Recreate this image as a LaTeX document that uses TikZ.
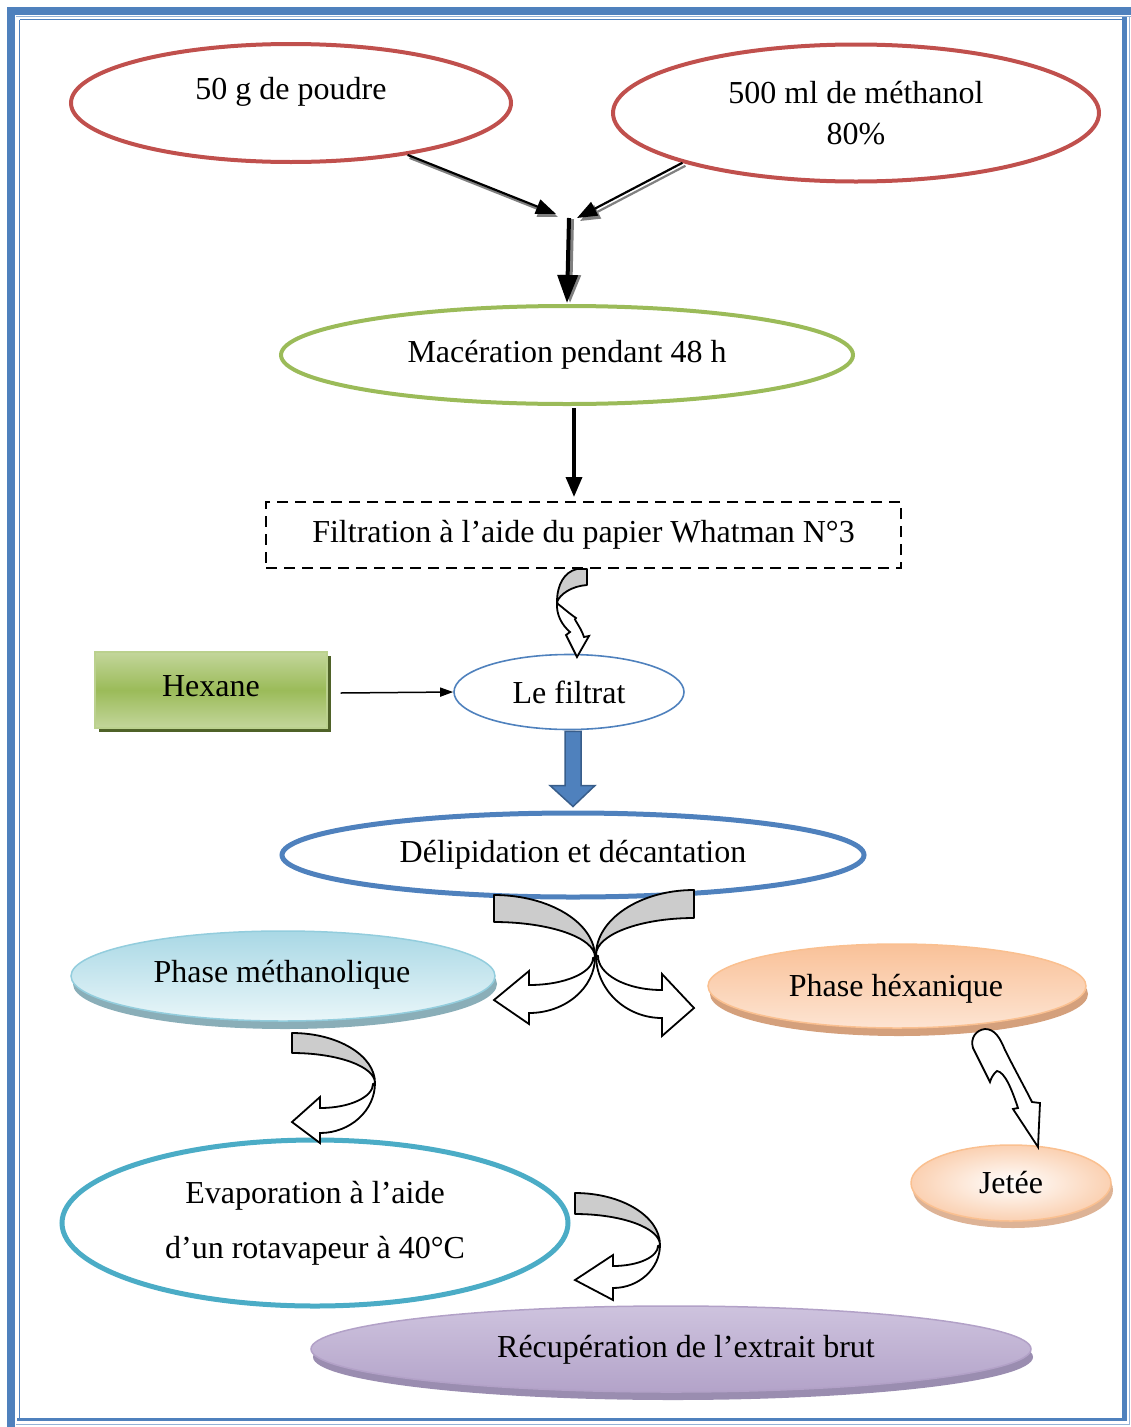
\documentclass[tikz,border=0pt]{standalone}
\usepackage{fontspec}
\setmainfont{Liberation Serif}
\usetikzlibrary{shapes.geometric,shadows,arrows.meta,calc}
\definecolor{redE}{HTML}{C0504D}
\definecolor{greenE}{HTML}{9BBB59}
\definecolor{greenL}{HTML}{C3D69B}
\definecolor{greenD}{HTML}{4F6228}
\definecolor{blueE}{HTML}{4F81BD}
\definecolor{blueD}{HTML}{385D8A}
\definecolor{blueL}{HTML}{95B3D7}
\definecolor{aquaE}{HTML}{4BACC6}
\definecolor{backgray}{HTML}{CCCCCC}
\definecolor{shadowgray}{HTML}{808080}
\definecolor{cyanT}{HTML}{A9D8E5}
\definecolor{cyanB}{HTML}{E9F6F9}
\definecolor{cyanS}{HTML}{8AAEB8}
\definecolor{cyanBd}{HTML}{93CDDD}
\definecolor{orT}{HTML}{F9C198}
\definecolor{orB}{HTML}{FDE4D2}
\definecolor{orS}{HTML}{D4A07C}
\definecolor{orBd}{HTML}{FAC090}
\definecolor{puT}{HTML}{CEC3DE}
\definecolor{puB}{HTML}{B3A3C9}
\definecolor{puS}{HTML}{9A8DB0}
\definecolor{puBd}{HTML}{B2A1C7}
\newcommand\uturnarrow[9]{%
  \filldraw[uback] (0,0) .. controls ({0.55*#1},0) and (#1,{0.45*#2}) .. (#1,#2)
     .. controls (#1,{#2-0.55*(#2-#3)}) and ({0.55*#1},#3) .. (0,#3) -- cycle;
  \filldraw[ufront] (#1,#2) .. controls (#1,{#2+0.55*(#6-#2)}) and ({#4+0.55*(#1-#4)},#6) .. (#4,#6)
     -- (#4,#8) -- (0,#9) -- (#4,#7) -- (#4,#5)
     .. controls ({#4+0.55*(#1-#4)},#5) and ({#1-2},{#2+0.55*(#5-#2)}) .. ({#1-2},{#2+1}) -- cycle;
}
\begin{document}
\begin{tikzpicture}[x=1pt,y=-1pt,
  font=\fontsize{32}{38}\selectfont,
  ell/.style={ellipse, inner sep=0pt, align=center},
  uback/.style={fill=backgray, draw=black, line width=1.8pt, line join=round},
  ufront/.style={fill=white, draw=black, line width=1.8pt, line join=miter},
  thinarr/.style={draw=black, line width=2.2pt, -{Triangle[length=20pt,width=15pt]}},
  thinshadow/.style={draw=shadowgray, line width=2.2pt, -{Triangle[length=20pt,width=15pt]}},
]
\useasboundingbox (0,0) rectangle (1131,1427);
% page border
\fill[blueE] (7,7) rectangle (1131,14.5);
\fill[blueE] (7,7) rectangle (15,1427);
\draw[blueE, line width=1.5pt] (19.5,19.5) -- (1122,19.5);
\draw[blueE, line width=1.5pt] (19.5,19.5) -- (19.5,1418);
\fill[blueE] (1122,17) rectangle (1126.5,1421);
\fill[blueE] (17,1417.5) rectangle (1126.5,1421);
\draw[blueL, line width=1.2pt] (1129.5,16) -- (1129.5,1424.5) -- (16,1424.5);
\draw[blueL, line width=1pt] (16,16.5) -- (1131,16.5);

% top ellipses
\node[ell, draw=redE, line width=4pt, minimum width=440pt, minimum height=118pt] (e1) at (291,103) {};
\node (t1) at (291,92) {50 g de poudre};
\node[ell, draw=redE, line width=4pt, minimum width=486pt, minimum height=137pt,
      font=\fontsize{32}{41}\selectfont] (e2) at (856,113) {500 ml de méthanol\\80\%};
\coordinate (j1) at (556,214);
\coordinate (j2) at (577,218);
\coordinate (j3) at (569,218);

\node[ell, draw=greenE, line width=4pt, minimum width=572pt, minimum height=98pt] (e3) at (567,355) {\raisebox{3pt}{Macération pendant 48 h}};

% arrows into maceration
\draw[thinshadow] ([shift={(2,3)}]e1.-24) -- ([shift={(2,3)}]j1);
\draw[thinarr] (e1.-24) -- (j1);
\draw[thinshadow] ([shift={(3,3)}]e2.196) -- ([shift={(3,3)}]j2);
\draw[thinarr] (e2.196) -- (j2);
\draw[draw=shadowgray, line width=4pt, -{Triangle[length=28pt,width=20pt]}] ([shift={(3,1)}]j3) -- ([shift={(3,-1)}]e3.north);
\draw[draw=black, line width=4pt, -{Triangle[length=28pt,width=20pt]}] (j3) -- ([yshift=1pt]e3.north);

% filtration
\node[draw=black, line width=2pt, dash pattern=on 11pt off 7pt, minimum width=635pt, minimum height=66pt, inner sep=0pt] (filt) at (583.5,535) {Filtration à l’aide du papier Whatman N°3};
\draw[draw=black, line width=3.5pt, -{Triangle[length=20pt,width=16pt]}] ([xshift=7pt,yshift=-2pt]e3.south) -- ([xshift=-9.5pt,yshift=4pt]filt.north);

% filtrat
\node[ell, draw=blueE, line width=1.6pt, minimum width=230pt, minimum height=75pt] (filtrat) at (569,692) {Le filtrat};
% curved arrow filtration -> filtrat
\filldraw[uback] (587,569) -- (577,569) .. controls (564,572) and (557,585) .. (557,602)
   .. controls (560,594) and (572,586) .. (587,585) -- cycle;
\filldraw[ufront] (557,602) .. controls (556,615) and (562,625) .. (570,632)
   -- (566,635) -- (577,657) -- (589,636) -- (584,637)
   .. controls (580,625) and (572,618) .. (576,618) .. controls (570,614) and (562,607) .. (558,604) -- cycle;

% hexane
\node[draw=greenL!80!greenE, line width=1.2pt, top color=greenL, bottom color=greenL, middle color=greenE,
      minimum width=232pt, minimum height=76pt, inner sep=0pt,
      general shadow={fill=greenD, shadow xshift=3.5pt, shadow yshift=-4pt}] (hex) at (211,690) {\raisebox{8pt}{Hexane}};
\draw[draw=black, line width=1.5pt, -{Triangle[length=13pt,width=9pt]}] ([xshift=13pt,yshift=-3pt]hex.east) -- (filtrat.west);

% delipidation
\node[ell, draw=blueE, line width=5pt, minimum width=582pt, minimum height=84pt] (delip) at (573,855) {\raisebox{-2pt}{Délipidation et décantation}};
% block arrow filtrat -> delip
\coordinate (ba) at (filtrat.south -| delip.north);
\filldraw[fill=blueE, draw=blueD, line width=1.5pt, line join=miter]
  ($(ba)+(-8,1)$) -- ($(delip.north)+(-8,-25)$) -- ($(delip.north)+(-23,-25)$) -- ($(delip.north)+(0,-4)$)
  -- ($(delip.north)+(22,-25)$) -- ($(delip.north)+(8,-25)$) -- ($(ba)+(8,1)$) -- cycle;

% phases
\node[ell, draw=cyanBd, line width=1.5pt, top color=cyanT, bottom color=cyanB,
      minimum width=424pt, minimum height=90pt,
      general shadow={fill=cyanS, shadow xshift=2pt, shadow yshift=-8pt}] (meth) at (283,976) {};
\node (methT) at (282,975) {Phase méthanolique};
\node[ell, draw=orBd, line width=1.5pt, top color=orT, bottom color=orB,
      minimum width=378pt, minimum height=84pt,
      general shadow={fill=orS, shadow xshift=2pt, shadow yshift=-8pt}] (hexa) at (897,986) {};
\node (hexaT) at (896,989) {Phase héxanique};

% crossing curved arrows from delip
\begin{scope}[shift={(494,895)}]
  \uturnarrow{101}{62}{27}{35}{90}{118}{76}{129}{105}
\end{scope}
\begin{scope}[shift={(694,890)}, xscale=-1]
  \uturnarrow{98}{65}{28}{32}{100}{128}{84}{146}{118}
\end{scope}

% evaporation
\node[ell, draw=aquaE, line width=5pt, minimum width=506pt, minimum height=166pt,
      font=\fontsize{32}{55}\selectfont] (evap) at (315,1223) {Evaporation à l’aide\\d’un rotavapeur à 40°C};
\begin{scope}[shift={(292,1033)}]
  \uturnarrow{83}{50}{20}{28}{75}{100}{64}{110}{89}
\end{scope}

% jetee
\node[ell, draw=orBd, line width=1.5pt, inner color=white, outer color=orT!75,
      minimum width=200pt, minimum height=76pt,
      general shadow={fill=orS!80, shadow xshift=2pt, shadow yshift=-7pt}] (jet) at (1011,1183) {Jetée};
\filldraw[ufront] (973,1048) .. controls (970,1038) and (976,1030) .. (985,1029)
  .. controls (995,1029) and (1000,1038) .. (1005,1050)
  .. controls (1015,1070) and (1025,1088) .. (1032,1102)
  -- (1040,1103) -- (1038,1147) -- (1013,1109) -- (1018,1108)
  .. controls (1012,1090) and (1005,1072) .. (997,1071)
  .. controls (994,1073) and (991,1078) .. (990,1082) -- cycle;

% recuperation
\node[ell, draw=puBd, line width=1.5pt, top color=puT, bottom color=puB,
      minimum width=720pt, minimum height=86pt,
      general shadow={fill=puS, shadow xshift=2pt, shadow yshift=-8pt}] (recup) at (671,1349) {};
\node (recupT) at (686,1350) {Récupération de l’extrait brut};
\begin{scope}[shift={(575,1193)}]
  \uturnarrow{85}{52}{21}{38}{73}{95}{62}{107}{87}
\end{scope}
\end{tikzpicture}
\end{document}
